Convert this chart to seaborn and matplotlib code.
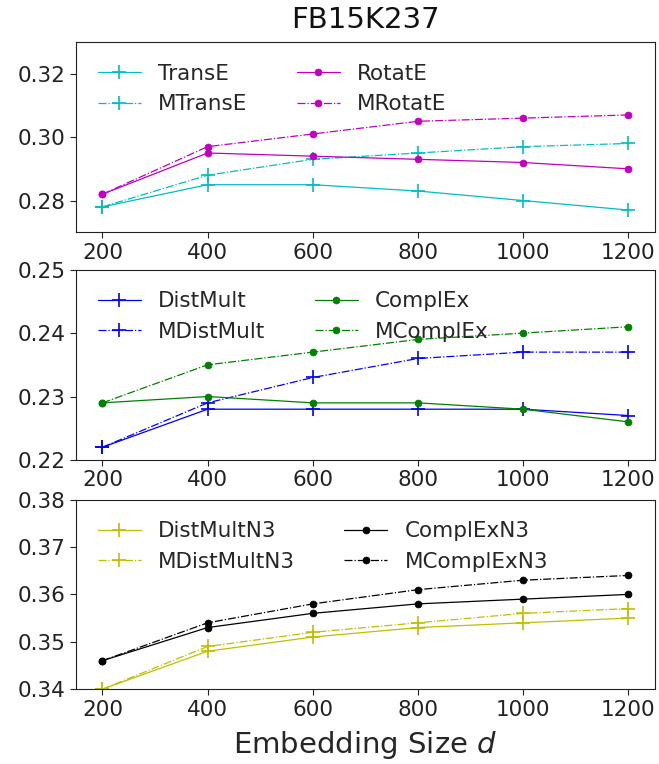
import pandas as pd
import matplotlib.pyplot as plt
import seaborn as sns

sns.set_style("ticks")
plt.rcParams['font.family'] = ['DejaVu Sans']

dims = [200, 400, 600, 800, 1000, 1200]

# panel 1
transe = [0.278, 0.285, 0.285, 0.283, 0.280, 0.277]
mtranse = [0.278, 0.288, 0.293, 0.295, 0.297, 0.298]
rotate = [0.282, 0.295, 0.294, 0.293, 0.292, 0.290]
mrotate = [0.282, 0.297, 0.301, 0.305, 0.306, 0.307]

# panel 2
distmult = [0.222, 0.228, 0.228, 0.228, 0.228, 0.227]
mdistmult = [0.222, 0.229, 0.233, 0.236, 0.237, 0.237]
complex_ = [0.229, 0.230, 0.229, 0.229, 0.228, 0.226]
mcomplex = [0.229, 0.235, 0.237, 0.239, 0.240, 0.241]

# panel 3
distmultn3 = [0.340, 0.348, 0.351, 0.353, 0.354, 0.355]
mdistmultn3 = [0.340, 0.349, 0.352, 0.354, 0.356, 0.357]
complexn3 = [0.346, 0.353, 0.356, 0.358, 0.359, 0.360]
mcomplexn3 = [0.346, 0.354, 0.358, 0.361, 0.363, 0.364]

panels = [
    {'series': [('TransE', transe, 'c', '+', '-'), ('MTransE', mtranse, 'c', '+', '-.'),
                ('RotatE', rotate, 'm', 'o', '-'), ('MRotatE', mrotate, 'm', 'o', '-.')],
     'ylim': (0.27, 0.33), 'yticks': [0.28, 0.30, 0.32]},
    {'series': [('DistMult', distmult, 'b', '+', '-'), ('MDistMult', mdistmult, 'b', '+', '-.'),
                ('ComplEx', complex_, 'g', 'o', '-'), ('MComplEx', mcomplex, 'g', 'o', '-.')],
     'ylim': (0.22, 0.25), 'yticks': [0.22, 0.23, 0.24, 0.25]},
    {'series': [('DistMultN3', distmultn3, 'y', '+', '-'), ('MDistMultN3', mdistmultn3, 'y', '+', '-.'),
                ('ComplExN3', complexn3, 'k', 'o', '-'), ('MComplExN3', mcomplexn3, 'k', 'o', '-.')],
     'ylim': (0.34, 0.38), 'yticks': [0.34, 0.35, 0.36, 0.37, 0.38]},
]

fig = plt.figure(figsize=(6.59, 7.64), dpi=100)
boxes = [(0.1155, 0.696, 0.878, 0.249), (0.1155, 0.398, 0.878, 0.249), (0.1155, 0.098, 0.878, 0.248)]

axes = []
for box, p in zip(boxes, panels):
    ax = fig.add_axes(box)
    axes.append(ax)
    for name, vals, col, mk, ls in p['series']:
        df = pd.DataFrame({'d': dims, 'v': vals})
        ms = 10 if mk == '+' else 5
        sns.lineplot(data=df, x='d', y='v', color=col, marker=mk, markersize=ms,
                     linestyle=ls, linewidth=0.9, label=name, ax=ax,
                     markeredgecolor=col, markeredgewidth=1.2 if mk == '+' else 0.5)
    ax.set_xlim(150, 1250)
    ax.set_ylim(*p['ylim'])
    ax.set_xticks(dims)
    ax.set_yticks(p['yticks'])
    ax.set_yticklabels([f"{t:.2f}" for t in p['yticks']])
    ax.tick_params(labelsize=15.5, length=4, colors='#222222')
    ax.set_xlabel('')
    ax.set_ylabel('')
    for s in ax.spines.values():
        s.set_color('#222222')
    ax.legend(loc='upper left', ncol=2, frameon=False, fontsize=15.5,
              handlelength=2.0, columnspacing=2.3, borderaxespad=0.6)

axes[-1].set_xlabel('Embedding Size $d$', fontsize=21, labelpad=7)
axes[0].set_title('FB15K237', fontsize=21, pad=10, color='#111111')

fig.savefig('out.png', dpi=100)
